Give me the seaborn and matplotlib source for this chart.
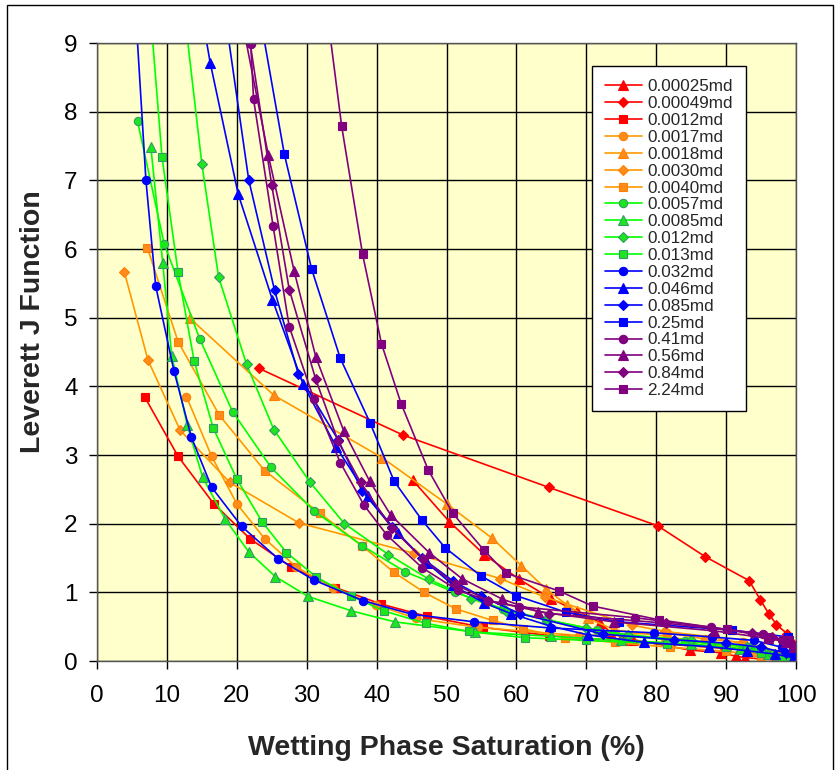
import matplotlib
matplotlib.use("Agg")
import matplotlib.pyplot as plt
from matplotlib.patches import Rectangle
import seaborn as sns

# permeability labels (legend order)
labels = ["0.00025md", "0.00049md", "0.0012md", "0.0017md", "0.0018md", "0.0030md",
          "0.0040md", "0.0057md", "0.0085md", "0.012md", "0.013md", "0.032md",
          "0.046md", "0.085md", "0.25md", "0.41md", "0.56md", "0.84md", "2.24md"]

# wetting phase saturation (%) and Leverett J
sw_00025 = [45.2, 50.4, 55.4, 60.4, 64.9, 68.6, 72.0, 73.6, 76.7, 84.8, 89.3, 91.4, 92.7, 95.0, 97.0, 99.0]
j_00025 = [2.63, 2.03, 1.55, 1.19, 0.91, 0.73, 0.56, 0.40, 0.31, 0.16, 0.12, 0.07, 0.05, 0.03, 0.02, 0.01]

sw_00049 = [23.2, 43.8, 64.6, 80.2, 87.0, 93.3, 94.9, 96.1, 97.2, 98.7, 99.3, 99.7]
j_00049 = [4.26, 3.29, 2.53, 1.97, 1.52, 1.17, 0.89, 0.69, 0.53, 0.40, 0.28, 0.15]

sw_0012 = [6.8, 11.6, 16.7, 21.9, 27.8, 34.1, 40.6, 47.2, 55.2, 64.7, 75.2, 85.0, 93.0, 97.0, 99.5]
j_0012 = [3.85, 2.98, 2.29, 1.78, 1.37, 1.07, 0.83, 0.65, 0.49, 0.37, 0.29, 0.22, 0.16, 0.10, 0.05]

sw_0017 = [12.8, 16.4, 20.0, 24.0, 28.5, 33.8, 39.9, 45.6, 54.5, 68.9, 81.5, 87.0, 92.4, 95.5, 97.5, 99.3]
j_0017 = [3.85, 2.98, 2.29, 1.78, 1.37, 1.06, 0.82, 0.62, 0.49, 0.37, 0.41, 0.32, 0.27, 0.15, 0.07, 0.03]

sw_0018 = [13.3, 25.3, 40.8, 50.0, 56.5, 60.7, 64.2, 67.2, 70.3, 74.1, 81.4, 85.3, 90.1, 94.0, 96.5, 98.5, 99.7]
j_0018 = [4.99, 3.87, 2.96, 2.29, 1.79, 1.39, 1.05, 0.82, 0.62, 0.45, 0.36, 0.29, 0.21, 0.15, 0.10, 0.05, 0.02]

sw_0030 = [3.9, 7.3, 11.9, 19.0, 28.9, 45.3, 57.7, 64.1, 76.6, 81.3, 88.0, 93.5, 96.0, 98.0, 99.6]
j_0030 = [5.67, 4.38, 3.36, 2.60, 2.01, 1.57, 1.20, 0.93, 0.52, 0.43, 0.35, 0.22, 0.12, 0.06, 0.02]

sw_0040 = [7.2, 11.6, 17.5, 24.0, 31.9, 37.9, 42.5, 46.8, 51.3, 56.6, 60.9, 66.9, 74.1, 82.0, 90.0, 95.0, 98.0, 99.7]
j_0040 = [6.02, 4.65, 3.58, 2.77, 2.15, 1.68, 1.29, 1.00, 0.76, 0.59, 0.47, 0.34, 0.27, 0.20, 0.14, 0.08, 0.04, 0.02]

sw_0057 = [5.8, 9.6, 14.7, 19.4, 24.9, 31.0, 37.9, 44.1, 51.2, 58.1, 64.3, 71.6, 76.0, 84.1, 87.9, 93.3, 94.5, 95.4, 97.0, 99.5]
j_0057 = [7.86, 6.08, 4.69, 3.63, 2.82, 2.19, 1.68, 1.30, 1.00, 0.76, 0.60, 0.45, 0.36, 0.29, 0.25, 0.21, 0.17, 0.14, 0.08, 0.03]

sw_0085 = [7.7, 9.4, 10.7, 12.9, 15.1, 18.3, 21.7, 25.5, 30.2, 36.4, 42.6, 54.1, 65.0, 75.0, 85.0, 92.0, 96.0, 99.0]
j_0085 = [7.49, 5.80, 4.44, 3.44, 2.68, 2.07, 1.59, 1.23, 0.94, 0.73, 0.57, 0.42, 0.36, 0.30, 0.25, 0.18, 0.10, 0.04]

sw_012 = [11.3, 15.0, 17.4, 21.4, 25.3, 30.5, 35.4, 41.7, 47.5, 53.5, 58.5, 64.4, 70.0, 76.0, 85.0, 93.0, 96.5, 99.0]
j_012 = [10.5, 7.24, 5.59, 4.32, 3.37, 2.60, 2.00, 1.55, 1.19, 0.91, 0.73, 0.60, 0.48, 0.38, 0.30, 0.20, 0.10, 0.04]

sw_013 = [6.8, 9.3, 11.6, 13.9, 16.6, 20.0, 23.6, 27.1, 31.4, 36.3, 41.0, 47.0, 53.2, 61.2, 70.0, 81.5, 90.0, 95.0, 98.0, 99.8]
j_013 = [10.5, 7.34, 5.66, 4.37, 3.40, 2.65, 2.03, 1.58, 1.22, 0.95, 0.73, 0.55, 0.43, 0.34, 0.30, 0.25, 0.20, 0.12, 0.06, 0.02]

sw_032 = [4.9, 7.0, 8.4, 11.0, 13.5, 16.4, 20.7, 25.9, 31.0, 38.0, 45.1, 54.0, 65.0, 79.7, 88.0, 94.0, 98.0, 99.7]
j_032 = [10.5, 7.00, 5.46, 4.23, 3.26, 2.53, 1.96, 1.49, 1.18, 0.88, 0.68, 0.57, 0.48, 0.41, 0.35, 0.30, 0.20, 0.10]

sw_046 = [14.0, 16.2, 20.2, 25.1, 29.5, 34.2, 38.7, 43.0, 47.2, 51.0, 55.3, 59.2, 64.8, 70.3, 78.3, 87.5, 93.0, 97.0, 99.5]
j_046 = [10.0, 8.71, 6.80, 5.26, 4.03, 3.12, 2.41, 1.86, 1.43, 1.10, 0.85, 0.69, 0.51, 0.38, 0.27, 0.21, 0.15, 0.10, 0.05]

sw_085 = [16.8, 21.7, 25.4, 28.8, 34.5, 37.9, 42.2, 46.5, 51.0, 55.0, 60.5, 72.4, 82.6, 90.0, 95.0, 98.5, 99.8]
j_085 = [10.5, 7.01, 5.40, 4.18, 3.22, 2.48, 1.95, 1.50, 1.16, 0.94, 0.69, 0.39, 0.31, 0.26, 0.20, 0.12, 0.05]

sw_25 = [21.4, 26.8, 30.7, 34.8, 39.1, 42.5, 46.5, 49.8, 54.9, 60.0, 67.1, 74.7, 90.8, 98.9, 99.5, 99.8]
j_25 = [10.5, 7.38, 5.71, 4.41, 3.46, 2.62, 2.05, 1.65, 1.24, 0.95, 0.71, 0.57, 0.45, 0.35, 0.20, 0.07]

sw_41 = [22.0, 22.4, 25.2, 27.5, 31.0, 34.8, 38.2, 41.5, 46.5, 51.6, 56.0, 60.4, 77.0, 87.9, 95.3, 98.0, 99.5]
j_41 = [8.98, 8.18, 6.33, 4.87, 3.82, 2.89, 2.27, 1.83, 1.36, 1.03, 0.88, 0.79, 0.63, 0.49, 0.39, 0.30, 0.20]

sw_56 = [18.5, 24.5, 28.2, 31.3, 35.3, 39.0, 42.0, 47.5, 52.2, 58.0, 63.1, 73.9, 88.2, 96.0, 98.5, 99.7]
j_56 = [10.5, 7.37, 5.68, 4.43, 3.35, 2.62, 2.13, 1.58, 1.20, 0.90, 0.72, 0.57, 0.44, 0.33, 0.28, 0.20]

sw_84 = [21.9, 25.0, 27.5, 31.3, 34.5, 37.7, 42.2, 46.7, 51.2, 56.0, 64.7, 81.4, 93.7, 96.5, 98.5, 99.7]
j_84 = [9.00, 6.93, 5.41, 4.10, 3.20, 2.60, 1.93, 1.48, 1.12, 0.88, 0.69, 0.55, 0.41, 0.35, 0.30, 0.22]

sw_224 = [31.6, 35.0, 38.0, 40.7, 43.5, 47.4, 50.9, 55.3, 58.5, 66.1, 70.9, 80.4, 90.1, 96.0, 99.0]
j_224 = [10.5, 7.79, 5.92, 4.62, 3.75, 2.78, 2.15, 1.62, 1.28, 1.02, 0.80, 0.60, 0.46, 0.35, 0.30]

sw_all = [sw_00025, sw_00049, sw_0012, sw_0017, sw_0018, sw_0030, sw_0040, sw_0057, sw_0085,
          sw_012, sw_013, sw_032, sw_046, sw_085, sw_25, sw_41, sw_56, sw_84, sw_224]
j_all = [j_00025, j_00049, j_0012, j_0017, j_0018, j_0030, j_0040, j_0057, j_0085,
         j_012, j_013, j_032, j_046, j_085, j_25, j_41, j_56, j_84, j_224]

# colour groups, marker shapes
red, orange, green, blue, purple = "#FF0000", "#FF9900", "#00FF00", "#0000FF", "#800080"
line_colors = [red] * 3 + [orange] * 4 + [green] * 4 + [blue] * 4 + [purple] * 4
face_colors = [red] * 3 + ["#FF8C1A"] * 4 + ["#1EE61E"] * 4 + [blue] * 4 + [purple] * 4
edge_colors = [red] * 3 + ["#FF7F00"] * 4 + ["#339966"] * 4 + [blue] * 4 + [purple] * 4
markers = ["^", "D", "s", "o", "^", "D", "s", "o", "^", "D", "s",
           "o", "^", "D", "s", "o", "^", "D", "s"]
msizes = {"^": 7, "D": 5, "s": 6, "o": 6}

sns.set_theme(style="ticks")
plt.rcParams["font.family"] = ["Liberation Sans", "DejaVu Sans"]

fig = plt.figure(figsize=(8.35, 7.7), dpi=100)
ax = fig.add_axes([97 / 835, 1 - 661 / 770, 699 / 835, 618 / 770])
ax.set_facecolor("#FFFFCC")

for lab, sw, jv, lc, fc, ec, m in zip(labels, sw_all, j_all, line_colors,
                                      face_colors, edge_colors, markers):
    sns.lineplot(x=sw, y=jv, ax=ax, sort=False, estimator=None, color=lc,
                 linewidth=1.2, marker=m, markersize=msizes[m],
                 markerfacecolor=fc, markeredgecolor=ec, markeredgewidth=0.8,
                 label=lab)

ax.set_xlim(0, 100)
ax.set_ylim(0, 9)
ax.set_xticks(range(0, 101, 10))
ax.set_yticks(range(0, 10))
ax.grid(True, color="black", linewidth=1.0)
ax.set_axisbelow(True)
for sp in ax.spines.values():
    sp.set_color("#555555")
    sp.set_linewidth(1.0)
ax.tick_params(axis="both", direction="out", length=6, width=1, color="black",
               labelsize=17.5, labelcolor="black")
ax.tick_params(axis="x", pad=11)
ax.tick_params(axis="y", pad=8)
ax.set_xlabel("")
ax.set_ylabel("")

fig.text(446 / 835, 1 - 748 / 770, "Wetting Phase Saturation (%)", ha="center",
         va="center", fontsize=20.5, fontweight="bold")
fig.text(33 / 835, 1 - 322 / 770, "Leverett J Function", ha="center", va="center",
         rotation=90, fontsize=20.5, fontweight="bold")

leg = ax.legend(loc="upper left", bbox_to_anchor=(0.708, 0.962), fontsize=12.3,
                frameon=True, fancybox=False, framealpha=1, edgecolor="black",
                handlelength=2.2, labelspacing=0.11, borderpad=0.75,
                handletextpad=0.3, borderaxespad=0)
leg.get_frame().set_linewidth(1.0)

# outer chart-area border
fig.patches.append(Rectangle((7 / 835, -0.02), 826 / 835, 1.02 - 5 / 770,
                             transform=fig.transFigure, fill=False,
                             edgecolor="black", linewidth=1.0))

fig.savefig("out.png", dpi=100, facecolor="white")
